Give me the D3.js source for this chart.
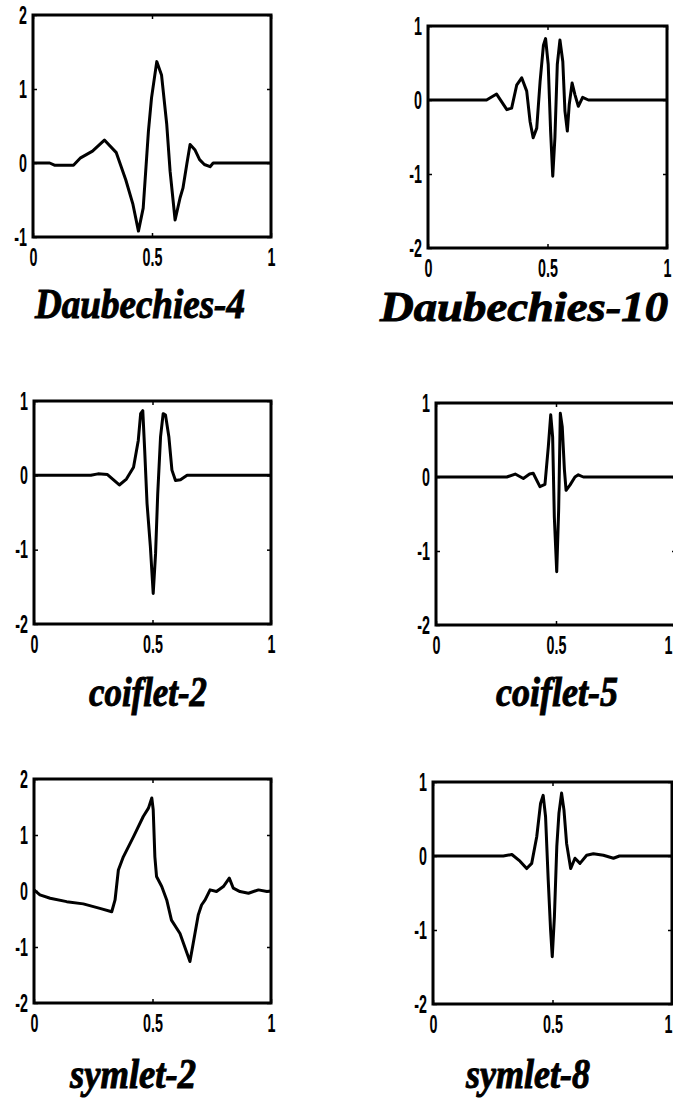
<!DOCTYPE html>
<html>
<head>
<meta charset="utf-8">
<script src="https://cdn.jsdelivr.net/npm/d3@7"></script>
<style>
  html, body { margin: 0; padding: 0; background: #fff; }
  svg { display: block; }
</style>
</head>
<body>
<svg id="chart" width="673" height="1106"></svg>
<script>
// Wavelet functions, sampled as [t, psi(t)] on t in [0, 1]
const daub4 = [[0,0],[0.07,0],[0.09,-0.03],[0.17,-0.03],[0.2,0.07],[0.25,0.16],[0.30,0.31],[0.35,0.14],[0.39,-0.23],[0.42,-0.56],[0.443,-0.92],[0.463,-0.61],[0.485,0.43],[0.498,0.88],[0.52,1.37],[0.54,1.19],[0.562,0.52],[0.576,-0.11],[0.597,-0.77],[0.618,-0.47],[0.63,-0.34],[0.646,-0.02],[0.66,0.25],[0.68,0.18],[0.70,0.045],[0.72,-0.02],[0.744,-0.05],[0.757,0],[1,0]];
const daub10 = [[0,0],[0.245,0],[0.287,0.08],[0.33,-0.13],[0.35,-0.11],[0.371,0.2],[0.392,0.30],[0.413,0.12],[0.427,-0.29],[0.44,-0.51],[0.455,-0.38],[0.469,0.25],[0.483,0.74],[0.492,0.83],[0.503,0.48],[0.513,-0.42],[0.522,-1.03],[0.531,-0.51],[0.541,0.48],[0.552,0.81],[0.564,0.52],[0.573,-0.15],[0.583,-0.42],[0.591,-0.06],[0.603,0.23],[0.615,0.07],[0.629,-0.085],[0.647,0.035],[0.671,0],[1,0]];
const coif2 = [[0,0],[0.24,0],[0.27,0.02],[0.31,0.01],[0.36,-0.13],[0.39,-0.05],[0.42,0.11],[0.44,0.47],[0.45,0.83],[0.459,0.87],[0.467,0.34],[0.477,-0.38],[0.491,-0.96],[0.503,-1.59],[0.513,-1.05],[0.522,-0.25],[0.534,0.52],[0.545,0.83],[0.555,0.81],[0.569,0.52],[0.582,0.07],[0.597,-0.07],[0.618,-0.06],[0.646,0],[1,0]];
const coif5 = [[0,0],[0.295,0],[0.33,0.04],[0.364,-0.02],[0.39,0.04],[0.405,0.05],[0.433,-0.13],[0.454,-0.1],[0.468,0.41],[0.478,0.84],[0.486,0.54],[0.493,-0.54],[0.503,-1.28],[0.511,-0.45],[0.518,0.86],[0.526,0.68],[0.535,0.1],[0.542,-0.18],[0.558,-0.11],[0.579,0],[0.593,0.03],[0.614,0],[1,0]];
const sym2 = [[0,0.02],[0.025,-0.07],[0.068,-0.13],[0.138,-0.19],[0.208,-0.23],[0.278,-0.31],[0.328,-0.37],[0.342,-0.16],[0.356,0.375],[0.377,0.61],[0.42,0.97],[0.461,1.33],[0.483,1.48],[0.497,1.66],[0.503,1.45],[0.51,0.61],[0.517,0.26],[0.539,0.08],[0.56,-0.16],[0.58,-0.52],[0.616,-0.76],[0.658,-1.26],[0.672,-0.93],[0.693,-0.43],[0.707,-0.25],[0.722,-0.16],[0.743,0.02],[0.77,-0.01],[0.799,0.08],[0.824,0.23],[0.841,0.05],[0.869,-0.01],[0.905,-0.04],[0.947,0.02],[0.983,-0.01],[1,0]];
const sym8 = [[0,0],[0.294,0],[0.33,0.02],[0.364,-0.07],[0.392,-0.17],[0.413,-0.1],[0.434,0.26],[0.45,0.71],[0.461,0.82],[0.471,0.53],[0.482,-0.32],[0.492,-1.0],[0.499,-1.36],[0.508,-0.82],[0.518,0.13],[0.527,0.58],[0.538,0.85],[0.548,0.62],[0.559,0.17],[0.576,-0.17],[0.594,-0.03],[0.615,-0.1],[0.643,0.01],[0.671,0.03],[0.713,0.01],[0.755,-0.03],[0.78,0],[1,0]];

const titles = ["Daubechies-4", "Daubechies-10", "coiflet-2", "coiflet-5", "symlet-2", "symlet-8"];
const yDomains = [[-1, 2], [-2, 1], [-2, 1], [-2, 1], [-2, 2], [-2, 1]];
const yTicks = [[-1, 0, 1, 2], [-2, -1, 0, 1], [-2, -1, 0, 1], [-2, -1, 0, 1], [-2, -1, 0, 1, 2], [-2, -1, 0, 1]];
const xTicks = [0, 0.5, 1];
const xTickLabels = ["0", "0.5", "1"];

const series = [daub4, daub10, coif2, coif5, sym2, sym8];

// Frame of each panel on the page and placement of its caption
const frames = [
  { l: 33,  r: 271, t: 15,  b: 237,  tx: 140, ty: 318,  tw: 210 },
  { l: 428, r: 667, t: 26,  b: 248,  tx: 524, ty: 321,  tw: 288 },
  { l: 34,  r: 271, t: 401, b: 624,  tx: 148, ty: 706,  tw: 118 },
  { l: 436, r: 676, t: 403, b: 625,  tx: 557, ty: 706,  tw: 122 },
  { l: 34,  r: 271, t: 779, b: 1003, tx: 133, ty: 1088, tw: 126 },
  { l: 433, r: 672, t: 782, b: 1004, tx: 528, ty: 1088, tw: 124 }
];

const W = 673;
const svg = d3.select("#chart");
const tickFont = "'Liberation Sans', Arial, sans-serif";
const tickSize = 26;
const squeeze = 0.55;

series.forEach((pts, i) => {
  const f = frames[i];
  const x = d3.scaleLinear().domain([0, 1]).range([f.l, f.r]);
  const y = d3.scaleLinear().domain(yDomains[i]).range([f.b, f.t]);
  const g = svg.append("g");

  // inward tick marks on all four sides
  const tk = 4;
  const bottom = g.append("g").attr("transform", `translate(0,${f.b})`)
    .call(d3.axisBottom(x).tickValues(xTicks).tickSizeInner(-tk).tickSizeOuter(0).tickPadding(11)
      .tickFormat((d, k) => xTickLabels[k]));
  g.append("g").attr("transform", `translate(0,${f.t})`)
    .call(d3.axisTop(x).tickValues(xTicks).tickSizeInner(-tk).tickSizeOuter(0).tickFormat(""));
  const left = g.append("g").attr("transform", `translate(${f.l},0)`)
    .call(d3.axisLeft(y).tickValues(yTicks[i]).tickSizeInner(-tk).tickSizeOuter(0).tickPadding(6)
      .tickFormat(d => String(d)));
  g.append("g").attr("transform", `translate(${f.r},0)`)
    .call(d3.axisRight(y).tickValues(yTicks[i]).tickSizeInner(-tk).tickSizeOuter(0).tickFormat(""));

  g.selectAll(".domain").remove();
  g.selectAll(".tick line").attr("stroke", "#000").attr("stroke-width", 1.5);

  bottom.selectAll("text")
    .attr("font-family", tickFont).attr("font-weight", "bold").attr("font-size", tickSize)
    .attr("fill", "#000")
    .attr("transform", `scale(${squeeze},1)`)
    .each(function (d) {
      // keep the rightmost label inside the page
      const cx = x(d);
      const half = this.getComputedTextLength() * squeeze / 2;
      if (cx + half > W - 1) {
        d3.select(this).attr("x", (W - 1 - half - cx) / squeeze);
      }
    });
  left.selectAll("text")
    .attr("font-family", tickFont).attr("font-weight", "bold").attr("font-size", tickSize)
    .attr("fill", "#000")
    .attr("x", -6 / squeeze)
    .attr("transform", `scale(${squeeze},1)`);

  // the wavelet curve
  const line = d3.line().x(d => x(d[0])).y(d => y(d[1]));
  g.append("path").datum(pts)
    .attr("d", line)
    .attr("fill", "none")
    .attr("stroke", "#000")
    .attr("stroke-width", 3)
    .attr("stroke-linejoin", "round");

  // plot frame
  g.append("rect")
    .attr("x", f.l).attr("y", f.t)
    .attr("width", f.r - f.l).attr("height", f.b - f.t)
    .attr("fill", "none").attr("stroke", "#000").attr("stroke-width", 3);

  // caption
  svg.append("text")
    .attr("x", f.tx).attr("y", f.ty)
    .attr("text-anchor", "middle")
    .attr("font-family", "'Liberation Serif', 'Times New Roman', serif")
    .attr("font-weight", "bold").attr("font-style", "italic")
    .attr("font-size", 42)
    .attr("textLength", f.tw).attr("lengthAdjust", "spacingAndGlyphs")
    .attr("fill", "#000")
    .attr("stroke", "#000").attr("stroke-width", 1)
    .text(titles[i]);
});
</script>
</body>
</html>
